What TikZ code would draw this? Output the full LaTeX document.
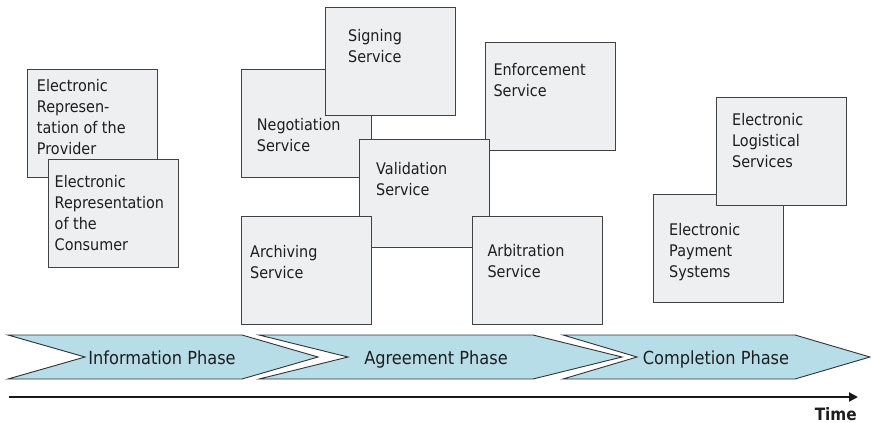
\documentclass[tikz,border=0pt]{standalone}
\usepackage{fontspec}
\setmainfont{DejaVu Sans}[FakeStretch=0.9]
\usetikzlibrary{arrows.meta}
\definecolor{boxfill}{RGB}{238,239,241}
\definecolor{boxline}{RGB}{66,66,66}
\definecolor{phasefill}{RGB}{182,221,232}
\definecolor{txt}{RGB}{30,30,30}
\tikzset{
  box/.style={draw=boxline, fill=boxfill, line width=1.1pt, anchor=north west,
    inner sep=0pt, minimum width=130pt, minimum height=108pt},
  btext/.style={anchor=north west, inner sep=0pt, align=left, text=txt,
    font=\fontsize{16pt}{21pt}\selectfont},
  phase/.style={draw=black!80, fill=phasefill, line width=0.9pt, line join=miter},
  ptext/.style={text=txt, font=\fontsize{18pt}{21pt}\selectfont, inner sep=0pt, anchor=base},
}
\begin{document}
\begin{tikzpicture}[x=1pt,y=-1pt]
\useasboundingbox (0,0) rectangle (871,423);

% left group
\node[box] (prov) at (27,69) {};
\node[btext] (provt) at ([shift={(9.7,10)}]prov.north west) {Electronic\\Represen-\\tation of the\\Provider};
\node[box] (cons) at (48,159) {};
\node[btext] (const) at ([shift={(6.5,16)}]cons.north west) {Electronic\\Representation\\of the\\Consumer};

% middle group
\node[box] (neg) at (241,69) {};
\node[btext] (negt) at ([shift={(15.7,49)}]neg.north west) {Negotiation\\Service};
\node[box] (sig) at (325,7) {};
\node[btext] (sigt) at ([shift={(23,22)}]sig.north west) {Signing\\Service};
\node[box] (enf) at (485,42) {};
\node[btext] (enft) at ([shift={(8.3,21)}]enf.north west) {Enforcement\\Service};
\node[box] (val) at (359,139) {};
\node[btext] (valt) at ([shift={(17,22.7)}]val.north west) {Validation\\Service};
\node[box] (arc) at (241,216) {};
\node[btext] (arct) at ([shift={(9,29)}]arc.north west) {Archiving\\Service};
\node[box] (arb) at (472,216) {};
\node[btext] (arbt) at ([shift={(15.3,28)}]arb.north west) {Arbitration\\Service};

% right group
\node[box] (pay) at (653,194) {};
\node[btext] (payt) at ([shift={(16,29)}]pay.north west) {Electronic\\Payment\\Systems};
\node[box] (log) at (716,97) {};
\node[btext] (logt) at ([shift={(16,16)}]log.north west) {Electronic\\Logistical\\Services};

% phases
\draw[phase] (8,335) -- (242,335) -- (318,357) -- (242,379) -- (8,379) -- (85,357) -- cycle;
\draw[phase] (259,335) -- (533,335) -- (622,357) -- (533,379) -- (259,379) -- (348,357) -- cycle;
\draw[phase] (563,335) -- (795,335) -- (870,357) -- (795,379) -- (563,379) -- (637,357) -- cycle;
\node[ptext] (info) at (162,364) {Information Phase};
\node[ptext] (agr) at (436,364) {Agreement Phase};
\node[ptext] (comp) at (716,364) {Completion Phase};

% time axis
\coordinate (t0) at (9,397);
\coordinate (t1) at (858,397);
\draw[line width=2pt, -{Triangle[length=9pt,width=9pt]}, black!90] (t0) -- (t1);
\node[anchor=base east, inner sep=0pt, text=txt, font=\fontsize{17pt}{20pt}\selectfont\bfseries] (time) at (857,420) {Time};
\end{tikzpicture}
\end{document}
